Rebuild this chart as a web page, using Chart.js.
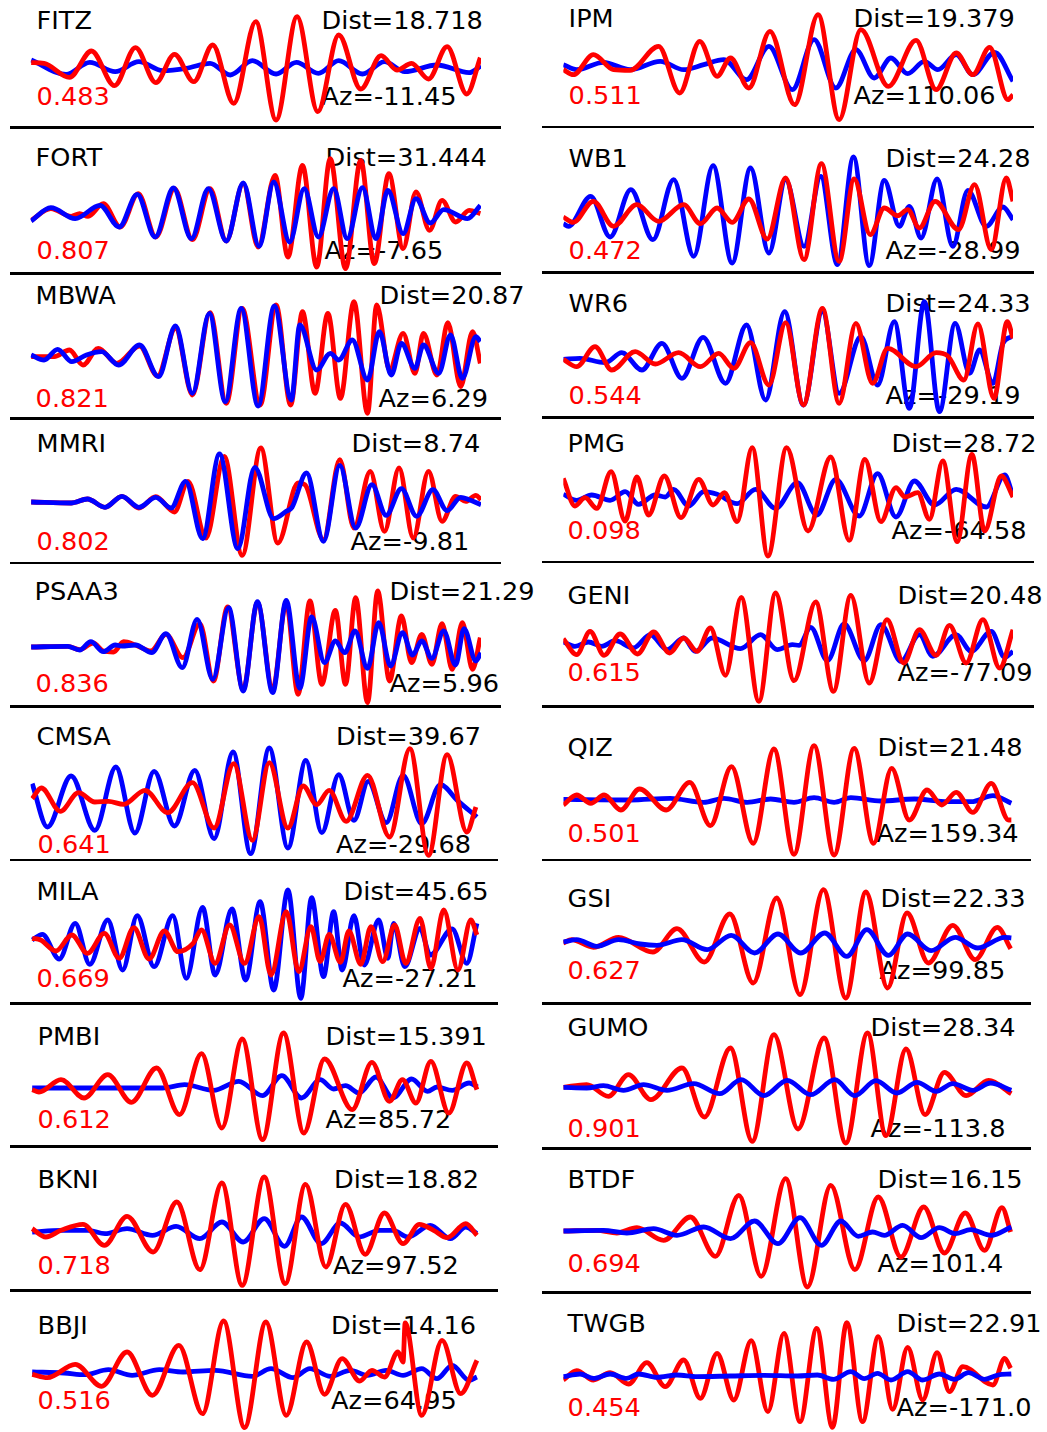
<!DOCTYPE html>
<html>
<head>
<meta charset="utf-8">
<script src="https://cdn.jsdelivr.net/npm/chart.js@4.4.0/dist/chart.umd.min.js"></script>
<style>
html, body { margin: 0; padding: 0; background: #fff; width: 1047px; height: 1432px; overflow: hidden; }
#wrap { position: relative; width: 1047px; height: 1432px; }
.lbl { position: absolute; font-family: 'DejaVu Sans', sans-serif; font-size: 25.6px; line-height: 25.6px; white-space: nowrap; color: #000; }
.cc { color: #ff0000; }
.sep { position: absolute; height: 2.5px; background: #000; }
canvas { position: absolute; }
</style>
</head>
<body>
<div id="wrap"></div>
<script>
// station labels, left column first then right column
const stations = ['FITZ', 'FORT', 'MBWA', 'MMRI', 'PSAA3', 'CMSA', 'MILA', 'PMBI', 'BKNI', 'BBJI',
                  'IPM', 'WB1', 'WR6', 'PMG', 'GENI', 'QIZ', 'GSI', 'GUMO', 'BTDF', 'TWGB'];
const dists = ['18.718', '31.444', '20.87', '8.74', '21.29', '39.67', '45.65', '15.391', '18.82', '14.16',
               '19.379', '24.28', '24.33', '28.72', '20.48', '21.48', '22.33', '28.34', '16.15', '22.91'];
const azimuths = ['-11.45', '-7.65', '6.29', '-9.81', '5.96', '-29.68', '-27.21', '85.72', '97.52', '64.95',
                  '110.06', '-28.99', '-29.19', '-64.58', '-77.09', '159.34', '99.85', '-113.8', '101.4', '-171.0'];
const corrs = ['0.483', '0.807', '0.821', '0.802', '0.836', '0.641', '0.669', '0.612', '0.718', '0.516',
               '0.511', '0.472', '0.544', '0.098', '0.615', '0.501', '0.627', '0.901', '0.694', '0.454'];

// waveforms: [sample, amplitude] at the turning points of each trace
const fitzRed = [[2,7],[40,5],[115,-37],[180,42],[248,-62],[310,52],[370,-53],[425,32],[482,-50],[538,60],[600,-115],[665,130],[725,-165],[787,145],[848,-140],[910,90],[975,-72],[1035,28],[1082,-15],[1125,5],[1175,-42],[1230,55],[1288,-87],[1328,22]];
const fitzBlue = [[2,15],[105,-28],[175,8],[250,-20],[320,10],[390,-17],[460,-10],[530,5],[590,-30],[655,13],[725,-27],[785,8],[850,-25],[910,13],[980,-27],[1045,10],[1105,-20],[1200,0],[1295,-23],[1330,-3]];

const fortRed = [[2,-10],[60,25],[120,2],[145,10],[170,2],[215,40],[265,-30],[318,70],[370,-60],[425,85],[478,-68],[530,85],[578,-72],[628,100],[672,-90],[722,125],[760,-120],[803,155],[845,-150],[885,175],[930,-155],[975,170],[1015,-140],[1058,130],[1100,-95],[1138,75],[1178,-40],[1215,50],[1255,-15],[1295,20],[1328,10]];
const fortBlue = [[2,-12],[60,28],[132,-5],[205,35],[262,-30],[315,68],[368,-60],[422,87],[475,-65],[525,85],[578,-72],[628,102],[675,-88],[718,105],[765,-75],[808,85],[850,-60],[895,85],[935,-65],[980,88],[1020,-65],[1055,80],[1100,-50],[1138,55],[1180,-18],[1220,22],[1290,-5],[1328,35]];

const mbwaRed = [[2,-5],[70,-5],[115,15],[155,-30],[200,20],[255,-25],[322,27],[375,-63],[428,80],[478,-120],[530,127],[578,-145],[625,140],[678,-150],[725,150],[768,-150],[803,130],[840,-115],[878,125],[915,-130],[955,160],[995,-175],[1022,150],[1060,-45],[1100,65],[1135,-55],[1160,65],[1200,-60],[1232,97],[1270,-95],[1305,70],[1328,-25]];
const mbwaBlue = [[2,0],[40,-15],[80,17],[122,-20],[165,0],[210,10],[260,-30],[322,30],[378,-65],[428,87],[478,-115],[528,125],[575,-140],[622,140],[672,-153],[720,147],[770,-135],[795,90],[845,-45],[885,5],[910,-15],[950,45],[995,-75],[1030,70],[1065,-60],[1095,35],[1135,-40],[1160,30],[1205,-55],[1240,60],[1275,-70],[1315,55],[1328,40]];

const mmriRed = [[2,0],[120,-3],[168,9],[220,-16],[270,17],[320,-18],[370,16],[425,-30],[465,62],[518,-108],[572,137],[625,-160],[680,162],[730,-123],[790,57],[810,52],[865,-113],[913,127],[955,-78],[1003,92],[1045,-88],[1088,102],[1130,-108],[1175,92],[1215,-58],[1255,17],[1285,2],[1315,20],[1330,7]];
const mmriBlue = [[2,0],[120,-3],[168,9],[220,-16],[270,17],[320,-16],[370,14],[415,-18],[458,62],[508,-110],[558,144],[612,-140],[662,104],[718,-50],[755,-28],[772,-16],[815,87],[865,-118],[913,110],[960,-78],[1008,52],[1050,-40],[1095,40],[1140,-43],[1188,37],[1230,-26],[1270,14],[1295,7],[1330,-8]];

const psaa3Red = [[2,0],[110,2],[145,-8],[185,12],[215,-12],[245,-15],[275,16],[310,6],[355,-12],[400,38],[450,-32],[500,70],[540,-102],[582,120],[628,-127],[670,133],[715,-127],[755,133],[790,-142],[825,138],[860,-112],[900,110],[930,-112],[960,148],[995,-167],[1025,168],[1060,-102],[1095,93],[1125,-47],[1155,38],[1185,-52],[1215,70],[1245,-67],[1275,73],[1305,-67],[1328,28]];
const psaa3Blue = [[2,0],[110,2],[145,-9],[178,16],[215,-14],[250,6],[270,3],[310,6],[358,-17],[400,40],[448,-62],[492,83],[538,-97],[585,118],[628,-132],[670,136],[715,-137],[755,140],[795,-124],[830,90],[868,-47],[900,18],[928,-17],[958,48],[995,-64],[1028,73],[1063,-57],[1098,43],[1128,-24],[1155,18],[1185,-34],[1220,48],[1255,-54],[1280,55],[1315,-42],[1330,-17]];

const cmsaRed = [[5,10],[32,42],[88,-28],[142,28],[190,0],[230,2],[275,-7],[338,35],[405,-32],[478,58],[542,-78],[600,115],[655,-115],[705,118],[760,-78],[805,48],[845,-8],[882,35],[932,-58],[995,80],[1060,-105],[1120,160],[1175,-160],[1230,142],[1288,-90],[1315,-15]];
const cmsaBlue = [[5,55],[50,-75],[120,78],[190,-85],[252,105],[308,-93],[365,92],[425,-72],[485,95],[542,-110],[598,150],[650,-155],[705,162],[760,-138],[813,125],[860,-92],[910,82],[955,-55],[997,62],[1050,-62],[1100,80],[1155,-65],[1210,52],[1260,5],[1318,-45]];

const milaRed = [[5,5],[30,0],[75,-33],[122,15],[168,-40],[218,20],[262,-55],[305,37],[350,-57],[395,27],[435,-35],[480,-10],[505,30],[545,-70],[588,45],[632,-70],[675,70],[710,-105],[755,85],[792,-95],[828,40],[855,-65],[882,17],[915,-67],[940,27],[975,-73],[1005,40],[1040,-65],[1075,45],[1108,-70],[1150,65],[1182,-85],[1220,90],[1262,-90],[1300,60],[1318,15]];
const milaBlue = [[5,0],[35,17],[85,-57],[132,50],[175,-73],[228,60],[272,-90],[315,73],[365,-80],[420,73],[460,-115],[508,98],[545,-105],[595,93],[635,-120],[678,115],[718,-150],[760,150],[798,-175],[830,127],[865,-110],[895,85],[920,-90],[955,73],[985,-75],[1028,60],[1055,-55],[1072,50],[1105,-80],[1150,35],[1180,-45],[1245,33],[1288,-70],[1318,50]];

const pmbiRed = [[5,-5],[25,-12],[90,25],[158,-30],[228,40],[298,-43],[372,60],[440,-80],[505,103],[565,-120],[625,147],[685,-155],[747,165],[807,-135],[868,87],[950,-65],[1008,77],[1060,-40],[1098,25],[1138,-45],[1182,80],[1235,-75],[1288,75],[1318,-5]];
const pmbiBlue = [[5,0],[390,0],[455,10],[540,-7],[615,20],[685,-23],[742,37],[800,-30],[855,25],[895,-3],[930,7],[970,-15],[1020,33],[1070,-30],[1125,27],[1172,-10],[1200,3],[1245,-7],[1295,15],[1320,3]];

const bkniRed = [[5,10],[45,-15],[90,5],[155,23],[218,-40],[285,47],[362,-60],[432,90],[500,-113],[565,147],[625,-160],[690,165],[752,-155],[812,143],[872,-105],[930,83],[988,-67],[1045,57],[1100,-35],[1148,23],[1190,5],[1230,-17],[1285,25],[1318,-10]];
const bkniBlue = [[5,0],[90,5],[170,5],[220,-5],[285,10],[360,-10],[430,17],[500,-20],[565,30],[628,-30],[690,40],[750,-43],[800,45],[858,-35],[915,27],[970,-15],[1030,5],[1070,5],[1115,-15],[1180,20],[1240,-20],[1285,15],[1318,-5]];

const bbjiRed = [[5,-4],[50,-14],[132,26],[210,-40],[285,63],[360,-67],[438,83],[508,-122],[570,156],[632,-164],[695,153],[755,-127],[815,93],[868,-64],[920,43],[972,-24],[1008,8],[1045,-12],[1085,63],[1100,33],[1106,150],[1155,-127],[1215,98],[1270,-62],[1318,38]];
const bbjiBlue = [[5,3],[100,0],[160,-5],[230,10],[300,-7],[380,10],[450,3],[545,8],[655,-10],[710,13],[775,-14],[825,13],[885,-10],[945,8],[995,-7],[1050,8],[1100,-7],[1155,13],[1200,-17],[1245,23],[1295,-22],[1318,-12]];

const ipmRed = [[0,-5],[30,-20],[90,40],[150,-5],[200,-7],[285,65],[348,-75],[408,80],[460,-25],[500,30],[555,-60],[618,110],[692,-110],[762,160],[825,-155],[890,115],[972,-55],[1055,83],[1115,-65],[1175,45],[1225,-20],[1275,62],[1330,-95],[1345,-80]];
const ipmBlue = [[0,10],[40,-5],[120,17],[200,-5],[290,20],[360,-5],[420,10],[480,25],[548,-35],[615,65],[685,-65],[750,85],[815,-60],[875,55],[930,-30],[980,30],[1030,-17],[1080,20],[1120,-5],[1175,40],[1225,-20],[1290,47],[1345,-40]];

const wb1Red = [[0,3],[30,-13],[90,50],[150,-25],[220,40],[285,-10],[360,40],[410,-17],[460,30],[505,-13],[555,57],[610,-63],[665,120],[720,-125],[772,163],[825,-130],[870,117],[918,-50],[960,30],[1000,7],[1030,25],[1065,-30],[1112,50],[1182,-35],[1230,100],[1280,-95],[1325,120],[1345,50]];
const wb1Blue = [[0,-17],[15,-25],[82,65],[140,-57],[202,85],[268,-65],[330,115],[390,-115],[448,157],[505,-135],[560,150],[615,-105],[665,115],[720,-85],[770,125],[820,-140],[868,183],[915,-143],[960,113],[1005,-25],[1035,35],[1070,-60],[1118,117],[1165,-85],[1210,83],[1265,-25],[1315,33],[1345,-5]];

const wr6Red = [[0,2],[40,-20],[95,40],[145,-30],[215,25],[275,-12],[345,22],[410,-20],[465,20],[510,-25],[560,52],[615,-75],[665,112],[718,-135],[775,155],[825,-130],[875,110],[925,-70],[970,35],[1055,-20],[1115,22],[1150,12],[1198,-60],[1240,108],[1288,-115],[1328,115],[1345,65]];
const wr6Blue = [[0,2],[50,5],[125,-8],[175,22],[235,-30],[295,50],[355,-55],[418,68],[485,-70],[548,105],[605,-120],[662,145],[718,-135],[775,145],[825,-100],[890,70],[940,-75],[990,115],[1035,-145],[1080,175],[1125,-155],[1172,110],[1215,-40],[1245,30],[1285,-70],[1315,50],[1340,70]];

const pmgRed = [[0,53],[35,-30],[65,-5],[100,-37],[143,73],[185,-75],[220,57],[255,-57],[302,60],[352,-65],[405,50],[448,-27],[482,10],[520,-77],[565,145],[612,-180],[668,145],[732,-105],[800,117],[855,-133],[902,110],[950,-77],[995,25],[1022,-3],[1060,10],[1095,-70],[1135,105],[1178,-137],[1222,125],[1260,-105],[1310,60],[1345,-3]];
const pmgBlue = [[0,5],[40,-13],[85,3],[140,-13],[185,13],[225,-25],[275,3],[305,-3],[330,20],[375,-30],[420,13],[460,5],[520,-23],[575,20],[635,-37],[700,40],[758,-57],[815,50],[885,-60],[940,67],[995,-63],[1050,45],[1110,-27],[1175,20],[1265,-33],[1320,63],[1345,0]];

const geniRed = [[0,10],[40,-38],[80,32],[122,-40],[170,24],[222,-36],[270,30],[318,-33],[360,12],[400,-28],[440,42],[485,-100],[532,134],[585,-178],[635,147],[690,-116],[755,120],[808,-148],[860,140],[915,-123],[968,67],[1018,-63],[1065,37],[1115,-40],[1155,50],[1205,-63],[1255,67],[1305,-78],[1345,37]];
const geniBlue = [[0,0],[35,-13],[75,0],[115,-13],[155,4],[210,-18],[260,22],[310,-23],[360,12],[395,-28],[445,12],[530,-20],[590,22],[640,-23],[685,-8],[705,-10],[740,44],[790,-56],[840,54],[900,-56],[950,52],[1010,-58],[1065,22],[1105,-43],[1175,22],[1220,-28],[1280,32],[1320,-46],[1345,-28]];

const qizRed = [[0,-15],[40,15],[82,-10],[122,15],[172,-30],[228,33],[308,-30],[378,53],[440,-77],[503,100],[568,-130],[630,153],[690,-163],[750,163],[810,-165],[870,155],[928,-130],[982,95],[1035,-60],[1088,30],[1132,-15],[1175,23],[1225,-37],[1280,50],[1332,-60],[1340,-60]];
const qizBlue = [[0,2],[200,0],[320,5],[420,-7],[480,5],[550,-7],[620,3],[690,-7],[750,7],[810,-7],[860,7],[950,-3],[1050,3],[1150,-5],[1220,-5],[1285,13],[1340,-10]];

const gsiRed = [[0,-3],[25,7],[90,-16],[165,14],[268,-30],[340,40],[422,-60],[498,84],[568,-123],[638,132],[708,-158],[778,157],[845,-168],[905,150],[970,-138],[1028,87],[1092,-63],[1165,50],[1232,-53],[1298,44],[1338,-20]];
const gsiBlue = [[0,0],[40,7],[100,-13],[165,7],[230,-6],[280,-10],[355,7],[430,-23],[502,20],[572,-33],[642,24],[710,-33],[782,27],[848,-43],[908,37],[972,-40],[1030,24],[1100,-26],[1172,14],[1240,-18],[1320,14],[1340,12]];

const gumoRed = [[0,2],[70,10],[135,-25],[195,40],[262,-35],[355,60],[422,-87],[500,120],[565,-160],[630,160],[702,-123],[780,150],[845,-165],[910,165],[965,-143],[1025,117],[1082,-80],[1140,47],[1205,-23],[1272,23],[1340,-17]];
const gumoBlue = [[0,2],[70,0],[120,7],[180,-7],[240,10],[310,-7],[390,13],[468,-17],[532,25],[600,-23],[670,23],[740,-20],[812,25],[872,-23],[935,22],[998,-15],[1058,17],[1115,-10],[1165,13],[1225,-7],[1278,15],[1340,-7]];

const btdfRed = [[0,0],[100,2],[160,-6],[220,10],[300,-28],[380,42],[455,-76],[525,107],[592,-136],[665,157],[730,-168],[800,137],[872,-116],[942,102],[1010,-78],[1078,72],[1140,-66],[1202,54],[1260,-58],[1312,70],[1338,-3]];
const btdfBlue = [[0,0],[120,2],[190,-6],[270,7],[340,-13],[420,12],[500,-23],[572,30],[642,-38],[708,40],[772,-43],[830,30],[882,-16],[925,-3],[960,-13],[1015,17],[1070,-20],[1125,10],[1172,-8],[1218,4],[1280,-13],[1340,12]];

const twgbRed = [[0,-12],[40,16],[90,-12],[140,10],[195,-24],[250,40],[305,-32],[360,48],[410,-67],[460,68],[510,-72],[562,106],[612,-107],[660,128],[708,-137],[758,143],[805,-154],[848,160],[895,-137],[942,118],[985,-100],[1030,86],[1075,-72],[1118,70],[1155,-47],[1195,28],[1285,-27],[1320,53],[1338,23]];
const twgbBlue = [[0,-2],[50,6],[90,-7],[140,6],[190,-7],[225,6],[280,-4],[340,3],[400,-2],[500,0],[600,2],[700,0],[760,3],[808,-10],[860,13],[900,-8],[940,8],[980,-12],[1030,13],[1075,-12],[1125,6],[1170,-10],[1212,10],[1260,-10],[1300,3],[1340,6]];

const redTraces = [fitzRed, fortRed, mbwaRed, mmriRed, psaa3Red, cmsaRed, milaRed, pmbiRed, bkniRed, bbjiRed,
                   ipmRed, wb1Red, wr6Red, pmgRed, geniRed, qizRed, gsiRed, gumoRed, btdfRed, twgbRed];
const blueTraces = [fitzBlue, fortBlue, mbwaBlue, mmriBlue, psaa3Blue, cmsaBlue, milaBlue, pmbiBlue, bkniBlue, bbjiBlue,
                    ipmBlue, wb1Blue, wr6Blue, pmgBlue, geniBlue, qizBlue, gsiBlue, gumoBlue, btdfBlue, twgbBlue];

// which trace is drawn over the other
const redOnTop = [true, false, false, false, false, true, true, true, true, true,
                  true, true, true, true, true, true, false, false, false, false];

// page layout (px)
const traceBase = [65, 216.7, 355, 502, 647.3, 801.7, 940, 1088.3, 1231.7, 1372.7,
                   68.3, 218.3, 360, 496.3, 642, 800, 942.3, 1088.3, 1230.7, 1376];
const topLine = [30, 167, 305, 453, 601, 746, 901, 1046, 1189, 1335,
                 28, 168, 313, 453, 605, 757, 908, 1037, 1189, 1333];
const bottomLine = [106, 260, 408, 551, 693, 854, 988, 1129, 1275, 1410,
                    105, 260, 405, 540, 682, 843, 980, 1138, 1273, 1417];
// left ink edge of each text
const nameX = [39, 38, 38, 39, 37, 39, 39, 40, 40, 40, 571, 571, 571, 570, 570, 570, 570, 570, 570, 570];
const corrX = [39, 39, 38, 39, 38, 40, 39, 40, 40, 40, 571, 571, 571, 570, 570, 570, 570, 570, 570, 570];
const distX = [324, 328, 382, 354, 392, 338.5, 346, 328, 336.5, 333.5, 856, 888, 888, 894, 900, 880, 883, 873, 880, 899];
const azX = [324, 327, 381, 353, 392, 338.5, 345, 328, 335.5, 333.5, 856, 888, 888, 894, 900, 879, 882, 873, 880, 899];
const sepLeft = [127.7, 273.3, 418.3, 563, 706.7, 860, 1003.3, 1146.7, 1290.7];
const sepRight = [127, 272.7, 417.3, 562, 706.7, 860, 1003.7, 1148.3, 1292.7];

const wrap = document.getElementById('wrap');

function addText(txt, x, base, cls) {
    const d = document.createElement('div');
    d.className = 'lbl' + (cls ? ' ' + cls : '');
    d.textContent = txt;
    d.style.left = (x - 2.4) + 'px';
    d.style.top = (base - 21.7) + 'px';
    wrap.appendChild(d);
}

function addSep(y, x0, x1) {
    const d = document.createElement('div');
    d.className = 'sep';
    d.style.left = x0 + 'px';
    d.style.width = (x1 - x0) + 'px';
    d.style.top = (y - 1.25) + 'px';
    wrap.appendChild(d);
}

sepLeft.forEach((y, i) => addSep(y, 10, i < 5 ? 501 : 498));
sepRight.forEach((y, i) => addSep(y, 542, i < 5 ? 1034 : 1031));

for (let i = 0; i < stations.length; i++) {
    addText(stations[i], nameX[i], topLine[i]);
    addText('Dist=' + dists[i], distX[i], topLine[i]);
    addText(corrs[i], corrX[i], bottomLine[i], 'cc');
    addText('Az=' + azimuths[i], azX[i], bottomLine[i]);
}

const toXY = arr => arr.map(p => ({ x: p[0], y: p[1] }));

function makePanel(i) {
    const left = i < 10;
    const w = left ? 520 : 517;
    const cv = document.createElement('canvas');
    cv.width = w;
    cv.height = 170;
    cv.style.width = w + 'px';
    cv.style.height = '170px';
    cv.style.left = (left ? 0 : 530) + 'px';
    cv.style.top = (traceBase[i] - 85) + 'px';
    wrap.appendChild(cv);

    new Chart(cv.getContext('2d'), {
        type: 'line',
        data: {
            datasets: [{
                label: stations[i] + ' red',
                data: toXY(redTraces[i]),
                borderColor: '#ff0000',
                order: redOnTop[i] ? 0 : 1
            }, {
                label: stations[i] + ' blue',
                data: toXY(blueTraces[i]),
                borderColor: '#0000ff',
                order: redOnTop[i] ? 1 : 0
            }]
        },
        options: {
            responsive: false,
            animation: false,
            events: [],
            layout: { padding: { left: left ? 30.5 : 33.3, right: left ? 39 : 34, top: 0, bottom: 0 } },
            scales: {
                x: { type: 'linear', display: false, min: 0, max: left ? 1330 : 1345 },
                y: { display: false, min: -255, max: 255 }
            },
            elements: {
                point: { radius: 0 },
                line: { borderWidth: 4.8, cubicInterpolationMode: 'monotone', fill: false }
            },
            plugins: { legend: { display: false }, tooltip: { enabled: false } }
        }
    });
}

for (let i = 0; i < stations.length; i++) makePanel(i);
</script>
</body>
</html>
